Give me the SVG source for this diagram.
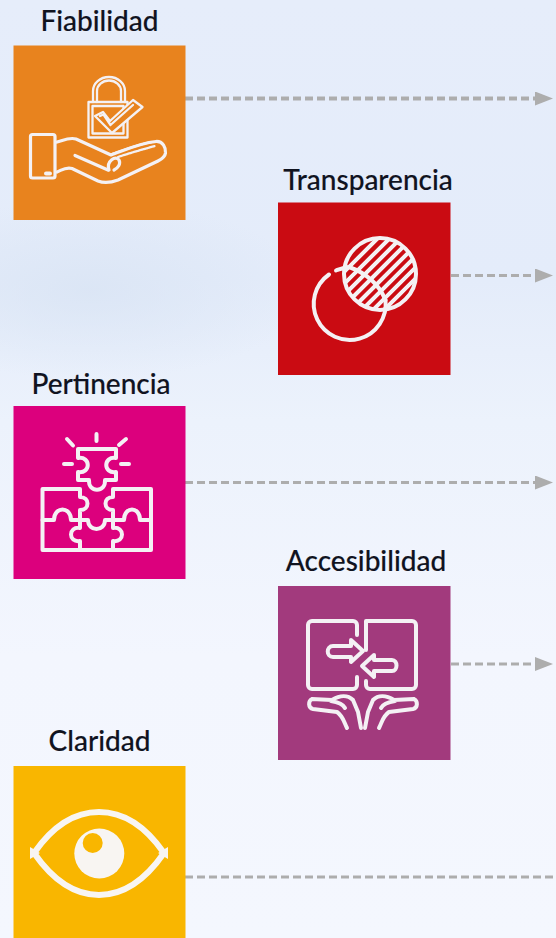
<svg xmlns="http://www.w3.org/2000/svg" width="556" height="938" viewBox="0 0 556 938">
<style>
.lbl{font-family:"Lato","Noto Sans",sans-serif;font-size:28px;font-weight:500;fill:#10131f;stroke:#10131f;stroke-width:.15;text-anchor:middle}
.ic{fill:none;stroke:#f4f1f4;stroke-width:4;stroke-linejoin:round;stroke-linecap:round}
.th{stroke-width:2.3}
.mid{stroke-width:3.2}
.conn{fill:none;stroke:#adadad;stroke-width:3;stroke-dasharray:8 4}
</style>
<defs>
<linearGradient id="bg" x1="0" y1="0" x2="0" y2="1">
<stop offset="0" stop-color="#e6edfa"/><stop offset=".3" stop-color="#e4ecfa"/><stop offset=".45" stop-color="#ecf2fc"/><stop offset=".7" stop-color="#f3f6fe"/><stop offset="1" stop-color="#f4f7fe"/>
</linearGradient>
<radialGradient id="patch"><stop offset="0" stop-color="#d9e4f4"/><stop offset="1" stop-color="#d9e4f4" stop-opacity="0"/></radialGradient>
<marker id="arr" markerUnits="userSpaceOnUse" markerWidth="18" markerHeight="14" refX="0" refY="7" orient="auto"><path d="M0 0L18 7L0 14Z" fill="#adadad"/></marker>
<clipPath id="hc"><circle cx="380" cy="274" r="36"/></clipPath>
</defs>
<g id="background">
<rect width="556" height="938" fill="url(#bg)"/>
<ellipse cx="90" cy="290" rx="220" ry="90" fill="url(#patch)" opacity=".8"/>
</g>
<g id="connectors">
<path class="conn" style="stroke-width:4" d="M185 98.500H535" marker-end="url(#arr)"/>
<path class="conn" d="M451 275.500H535" marker-end="url(#arr)"/>
<path class="conn" d="M185 482.500H535" marker-end="url(#arr)"/>
<path class="conn" d="M451 664H535" marker-end="url(#arr)"/>
<path class="conn" d="M185 877H556"/>
</g>
<g id="fiabilidad">
<text class="lbl" x="99.500" y="31">Fiabilidad</text>
<rect x="13.500" y="45.500" width="172" height="174.500" fill="#e8831e"/>
<path class="ic th" d="M93 102V91a16 14 0 0 1 32 0V102M97 102V91a12 10.500 0 0 1 24 0V102"/>
<rect class="ic th" x="88.500" y="102" width="39" height="35.500"/>
<rect class="ic th" x="92.500" y="106" width="31" height="27.500"/>
<path class="ic th" d="M95 116L103 112L110 121L133 100L142.500 107L112 133Z" style="fill:#e8831e"/>
<path class="ic th" d="M100 116L103.500 114.500L110.500 125L133 105"/>
<rect class="ic mid" x="30.500" y="134.500" width="24.500" height="43.500" rx="2"/>
<path class="ic mid" d="M57 142C64 140 70 137 76 139L111 155C125 150 140 143 156 141.500C163 141 166 148 165.500 153C165 157 162 159 158 161L118 180C110 183 103 183 98 181L72 168.500C66 166.500 62 170 57 172"/>
<path class="ic mid" d="M75 155.500L108 170"/>
<path class="ic mid" d="M109 170C106 161 116 155 119 160C121 164 118 168 114 170"/>
<path class="ic th" d="M112 154C127 149 140 144 152 142M118 157C130 153 144 149 155 146" stroke-dasharray="2 1"/>
<path class="ic" d="M46 173.500H50"/>
</g>
<g id="transparencia">
<text class="lbl" x="368" y="190">Transparencia</text>
<rect x="278" y="202.500" width="172.500" height="172.500" fill="#ca0b12"/>
<g clip-path="url(#hc)"><path class="ic" d="M342 274L380 236M342 286L392 236M344 295L403 236M350 300L414 236M356 305L420 241M362 310L420 252M370 313L420 263M380 314L420 274M390 315L420 285"/></g>
<circle class="ic" cx="380" cy="274" r="36"/>
<path class="ic" d="M329 274.500A36 36 0 1 0 385.500 300M336 270.500C340 269 342 268 349 267"/>
<path class="ic" d="M349 267C363 272 378 282 385.500 300"/>
</g>
<g id="pertinencia">
<text class="lbl" x="101" y="393.500">Pertinencia</text>
<rect x="13.500" y="406" width="172" height="173" fill="#dc007d"/>
<path class="ic" d="M96.500 434V441M67 439L73 445.500M126 439L119 445M64 464H72M121 464H129"/>
<path class="ic" d="M78 449H116V458C103 456 103 474 116 472V480H105C106 493 88 493 89 480H78V472C91 474 91 456 78 458Z"/>
<path class="ic" d="M42.500 489H80V497C90 497 90 510 80 510V520H71C71 506 54 506 54 520H42.500Z"/>
<path class="ic" d="M151 489H113V497C103 497 103 510 113 510V520H124C124 506 140 506 140 520H151Z"/>
<path class="ic" d="M42.500 520V550H151V520"/>
<path class="ic" d="M80 520H88C88 532 105 532 105 520H113V528C125 526 125 543 113 541V550H80V541C68 543 68 526 80 528Z"/>
</g>
<g id="accesibilidad">
<text class="lbl" x="366" y="571">Accesibilidad</text>
<rect x="278" y="586" width="172.500" height="174" fill="#a23a7d"/>
<path class="ic" d="M357 635V625a4 4 0 0 0-4-4H312a4 4 0 0 0-4 4V685a4 4 0 0 0 4 4H353a4 4 0 0 0 4-4V677"/>
<path class="ic" d="M366 621H412a4 4 0 0 1 4 4V685a4 4 0 0 1-4 4H370a4 4 0 0 1-4-4V681M366 621V650"/>
<path class="ic" d="M333 646H351V640L363 651L351 662V657H333C326 657 326 646 333 646Z"/>
<path class="ic" d="M392 660H374V655L362 666L374 677V671H392C398 671 398 660 392 660Z"/>
<path class="ic" d="M312 699C308 701 308 708 313 709L337 712C343 716 344 722 347 728M312 699L332 700C340 695 348 695 353 700L358 712L361 728M331 701C338 702 343 704 345 708"/>
<path class="ic" d="M414 699C418 701 418 708 413 709L389 712C383 716 382 722 379 728M414 699L394 700C386 695 378 695 373 700L368 712L365 728M395 701C388 702 383 704 381 708"/>
</g>
<g id="claridad">
<text class="lbl" x="99.500" y="751">Claridad</text>
<rect x="13.500" y="766" width="172" height="172" fill="#f9b600"/>
<path d="M34 853C50 830 72 812 99 812C126 812 148 830 164 853C148 876 126 895 99 895C72 895 50 876 34 853Z" fill="none" stroke="#f8f5f2" stroke-width="6"/>
<path d="M30 847L40 853L30 859ZM168 847L158 853L168 859Z" fill="#f8f5f2"/>
<circle cx="99.300" cy="853.500" r="25" fill="#f8f5f2"/>
<circle cx="92.700" cy="843" r="10" fill="#f9b600"/>
</g>
</svg>
